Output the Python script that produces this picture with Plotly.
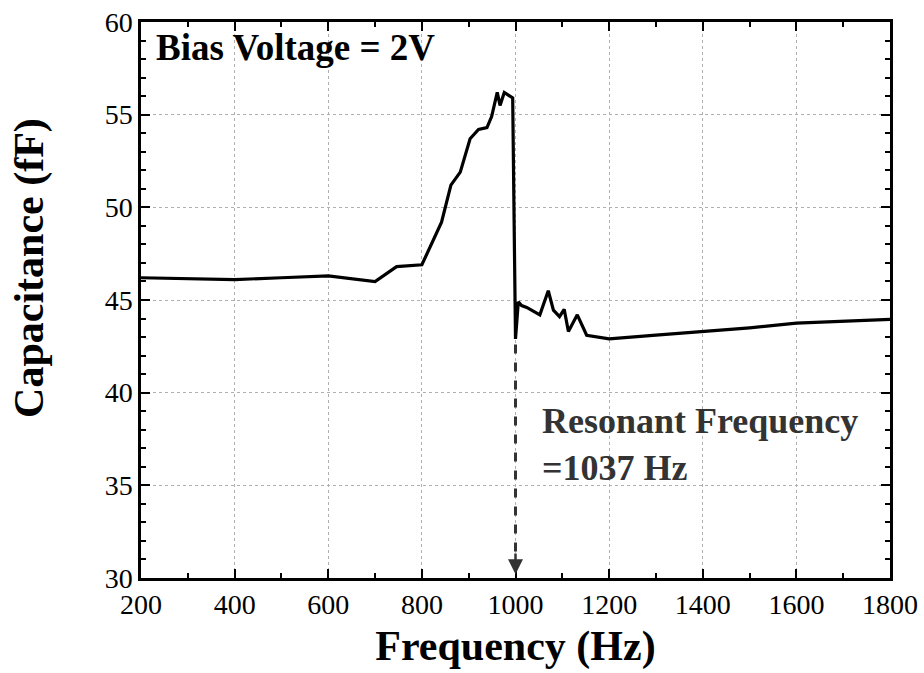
import plotly.graph_objects as go

freq_hz = [200, 300, 400, 500, 600, 700, 746, 800, 842, 862, 882, 903, 921, 939, 949,
           961, 967, 976, 994, 997, 1000, 1006, 1013, 1024, 1052, 1070, 1081, 1094,
           1104, 1113, 1132, 1152, 1180, 1200, 1300, 1400, 1500, 1600, 1700, 1800]
cap_ff = [46.2, 46.15, 46.1, 46.2, 46.3, 46.0, 46.8, 46.9, 49.2, 51.2, 51.9, 53.7, 54.2,
          54.3, 54.9, 56.2, 55.5, 56.2, 55.9, 49.3, 42.9, 44.9, 44.7, 44.6, 44.2, 45.5,
          44.45, 44.1, 44.5, 43.3, 44.2, 43.1, 43.0, 42.9, 43.1, 43.3, 43.5, 43.75, 43.85, 43.95]

x_ticks = [200, 400, 600, 800, 1000, 1200, 1400, 1600, 1800]
y_ticks = [30, 35, 40, 45, 50, 55, 60]

resonance_x = 1000
arrow_top = 42.6
arrow_bottom = 30.2
label_x = 1052
label_y = 37.2
label_text = "Resonant Frequency<br>=1037 Hz"
bias_text = "Bias Voltage = 2V"

FONT = "Liberation Serif"

fig = go.Figure()
fig.add_trace(go.Scatter(x=freq_hz, y=cap_ff, mode="lines",
                         line=dict(color="black", width=3.2), showlegend=False))

# dashed arrow stem
fig.add_shape(type="line", x0=resonance_x, x1=resonance_x, y0=arrow_top, y1=arrow_bottom + 1.0,
              xref="x", yref="y", line=dict(color="#333333", width=3, dash="dash"))
# arrow head
fig.add_annotation(x=resonance_x, y=arrow_bottom, ax=resonance_x, ay=arrow_bottom + 1.2,
                   xref="x", yref="y", axref="x", ayref="y", text="", showarrow=True,
                   arrowhead=2, arrowsize=1.2, arrowwidth=2.5, arrowcolor="#333333")

fig.add_annotation(x=label_x, y=label_y, xref="x", yref="y", text="<b>" + label_text + "</b>",
                   showarrow=False, xanchor="left", yanchor="middle", align="left",
                   font=dict(family=FONT, size=36, color="#333333"))
fig.add_annotation(x=0.018, y=0.995, xref="paper", yref="paper", text="<b>" + bias_text + "</b>",
                   showarrow=False, xanchor="left", yanchor="top",
                   font=dict(family=FONT, size=37, color="black"))
# y-axis title
fig.add_annotation(x=-0.148, y=0.558, xref="paper", yref="paper", text="<b>Capacitance (fF)</b>",
                   showarrow=False, textangle=-90, xanchor="center", yanchor="middle",
                   font=dict(family=FONT, size=42, color="black"))

axis_common = dict(showline=True, linecolor="black", linewidth=2.5, mirror="ticks",
                   ticks="inside", ticklen=9, tickwidth=2, tickcolor="black",
                   showgrid=True, gridcolor="#b0b0b0", griddash="dot", gridwidth=1,
                   zeroline=False, automargin=False,
                   tickfont=dict(family=FONT, size=28, color="black"))

fig.update_xaxes(range=[200, 1800], tickvals=x_ticks,
                 title=dict(text="<b>Frequency (Hz)</b>", font=dict(family=FONT, size=42, color="black"),
                            standoff=12),
                 minor=dict(dtick=100, tick0=200, ticks="inside", ticklen=5, tickwidth=2,
                            tickcolor="black", showgrid=False),
                 **axis_common)
fig.update_yaxes(range=[30, 60], tickvals=y_ticks,
                 minor=dict(dtick=1, tick0=30, ticks="inside", ticklen=5, tickwidth=2,
                            tickcolor="black", showgrid=False),
                 **axis_common)

fig.update_layout(width=924, height=673, margin=dict(l=141, r=34, t=22, b=95),
                  plot_bgcolor="white", paper_bgcolor="white")

fig.write_html("out.html")
